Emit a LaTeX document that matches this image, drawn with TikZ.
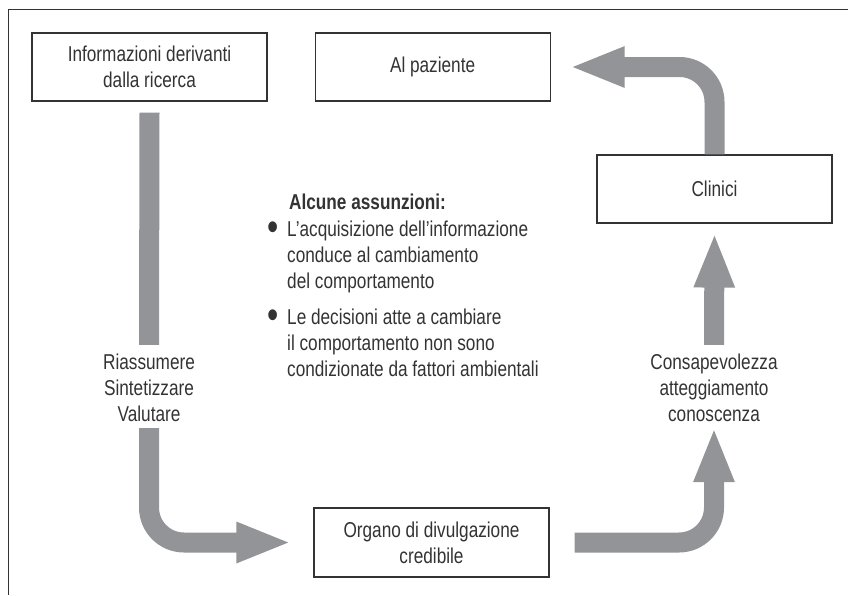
\documentclass[tikz,border=0pt]{standalone}
\usepackage{fontspec}
\setmainfont{Liberation Sans}[FakeStretch=0.8]
\usetikzlibrary{positioning,arrows.meta}
\definecolor{bandgray}{HTML}{939498}
\definecolor{inkgray}{HTML}{333333}
\newcommand{\dotmark}{\makebox[13pt][l]{\raisebox{-4pt}[0pt][0pt]{\fontsize{40}{26}\selectfont•}}}

\begin{document}
\begin{tikzpicture}[x=1pt,y=-1pt,
    every node/.style={text=inkgray,font=\fontsize{21.5}{26}\selectfont},
    box/.style={draw=inkgray,line width=1.1pt,minimum width=235pt,minimum height=68pt,align=center,inner sep=0pt},
    label/.style={align=center,inner sep=0pt},
    note/.style={inner sep=0pt,anchor=base west},
    band/.style={draw=bandgray,line width=20pt,rounded corners=35pt},
    bandtip/.style={band,-{Triangle[width=37pt,length=55pt]}}]
  \useasboundingbox (0,0) rectangle (848,595);
  \draw[inkgray,line width=1pt] (8,595) -- (8,9) -- (848,9);

  \node[box] (info) at (149.5,67) {Informazioni derivanti\\dalla ricerca};
  \node[box,right=47pt of info] (paziente) {Al paziente};
  \node[box] (clinici) at (714.5,189) {Clinici};
  \node[box,minimum height=69pt] (organo) at (431.5,542.5) {Organo di divulgazione\\credibile};

  \node[label] (riass) at (149,388) {Riassumere\\Sintetizzare\\Valutare};
  \node[label] (consap) at (714,388) {Consapevolezza\\atteggiamento\\conoscenza};

  \node[note] (assunzioni) at (267,209) {\begin{tabular}[t]{@{}l@{\hspace{7pt}}l@{}}
    \multicolumn{2}{@{}l@{}}{\hspace{22pt}\bfseries Alcune assunzioni:}\\[1pt]
    \dotmark & L’acquisizione dell’informazione\\
      & conduce al cambiamento\\
      & del comportamento\\[10pt]
    \dotmark & Le decisioni atte a cambiare\\
      & il comportamento non sono\\
      & condizionate da fattori ambientali
  \end{tabular}};

  \draw[band] ([yshift=-11pt]info.south) -- ([yshift=9pt]riass.north);
  \draw[bandtip] ([yshift=-6pt]riass.south) |- ([xshift=-22pt]organo.west);
  \draw[bandtip] ([xshift=25pt]organo.east) -| ([yshift=-5pt]consap.south);
  \draw[bandtip] ([yshift=9pt]consap.north) -- ([yshift=-9pt]clinici.south);
  \draw[bandtip] (clinici.north) |- ([xshift=19pt]paziente.east);
\end{tikzpicture}
\end{document}
